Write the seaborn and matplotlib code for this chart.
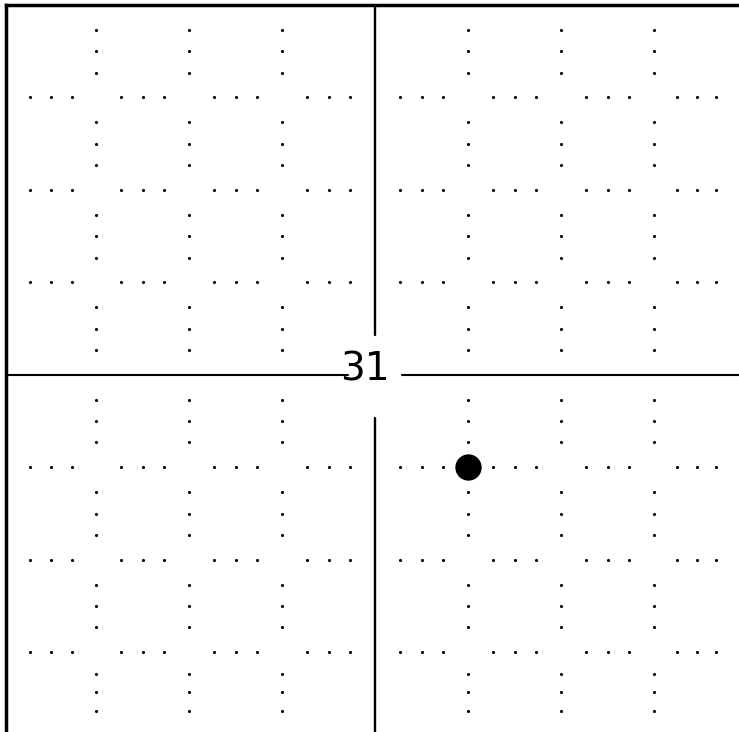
import numpy as np
import pandas as pd
import matplotlib
matplotlib.use("Agg")
import matplotlib.pyplot as plt
import seaborn as sns

# grid lines (one cell = one unit), the plotted point and the handwritten label
grid_x = [-3, -2, -1, 1, 2, 3]
grid_y = [-3, -2, -1, 1, 2, 3]
point_x = [1]
point_y = [-1]
label_text = "31"

sns.set_style("white")

fig = plt.figure(figsize=(7.39, 7.32), dpi=100)
ax = fig.add_axes([6 / 739, 0, 1 - 6 / 739, 1 - 5 / 732])
x_lo, x_hi = -3.97, 3.91
y_lo, y_hi = -3.86, 4.0
ax.set_xlim(x_lo, x_hi)
ax.set_ylim(y_lo, y_hi)

# dotted grid: three dots per cell edge, none at the crossings
stops_x = [x_lo] + [-3, -2, -1, 0, 1, 2, 3] + [x_hi]
stops_y = [y_lo] + [-3, -2, -1, 0, 1, 2, 3] + [y_hi]
fracs = [0.27, 0.5, 0.73]
dots = []
for gx in grid_x:
    for a, b in zip(stops_y[:-1], stops_y[1:]):
        for f in fracs:
            dots.append((gx, a + (b - a) * f))
for gy in grid_y:
    for a, b in zip(stops_x[:-1], stops_x[1:]):
        for f in fracs:
            dots.append((a + (b - a) * f, gy))
dots = pd.DataFrame(dots, columns=["x", "y"])
sns.scatterplot(data=dots, x="x", y="y", s=5, color="black", marker="o",
                linewidth=0, ax=ax, legend=False)

# solid axes, broken around the label
ax.plot([0, 0], [y_lo, -0.47], color="black", lw=1.7)
ax.plot([0, 0], [0.43, y_hi], color="black", lw=1.7)
ax.plot([x_lo, -0.29], [0, 0], color="black", lw=1.5)
ax.plot([0.29, x_hi], [0, 0], color="black", lw=1.5)

ax.text(-0.11, 0.06, label_text, fontsize=28, ha="center", va="center",
        color="black", family="DejaVu Sans")

sns.scatterplot(x=point_x, y=point_y, s=360, color="black", linewidth=0,
                ax=ax, legend=False, zorder=5)

ax.set_xticks([])
ax.set_yticks([])
ax.set_xlabel("")
ax.set_ylabel("")
for side in ["right", "bottom"]:
    ax.spines[side].set_visible(False)
for side in ["left", "top"]:
    ax.spines[side].set_linewidth(2.5)
    ax.spines[side].set_color("black")

fig.savefig("out.png", dpi=100)
